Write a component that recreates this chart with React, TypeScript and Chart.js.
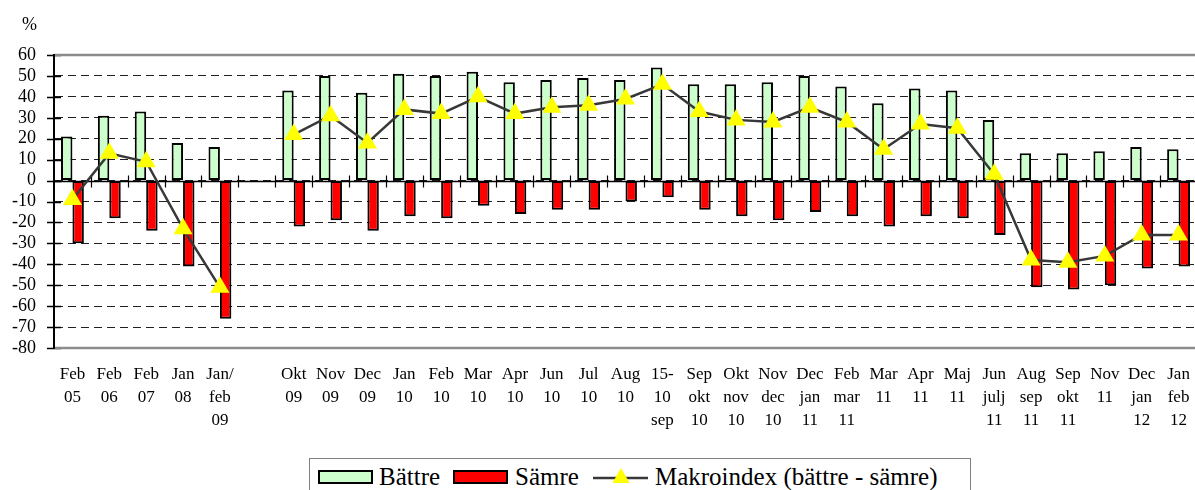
import React, { useEffect, useRef } from "react";
import { Chart, registerables } from "chart.js";

Chart.register(...registerables);

// ---- data ----
const categories: string[][] = [
  ["Feb", "05"],
  ["Feb", "06"],
  ["Feb", "07"],
  ["Jan", "08"],
  ["Jan/", "feb", "09"],
  [""],
  ["Okt", "09"],
  ["Nov", "09"],
  ["Dec", "09"],
  ["Jan", "10"],
  ["Feb", "10"],
  ["Mar", "10"],
  ["Apr", "10"],
  ["Jun", "10"],
  ["Jul", "10"],
  ["Aug", "10"],
  ["15-", "10", "sep"],
  ["Sep", "okt", "10"],
  ["Okt", "nov", "10"],
  ["Nov", "dec", "10"],
  ["Dec", "jan", "11"],
  ["Feb", "mar", "11"],
  ["Mar", "11"],
  ["Apr", "11"],
  ["Maj", "11"],
  ["Jun", "julj", "11"],
  ["Aug", "sep", "11"],
  ["Sep", "okt", "11"],
  ["Nov", "11"],
  ["Dec", "jan", "12"],
  ["Jan", "feb", "12"],
];

const battre: (number | null)[] = [
  21, 31, 33, 18, 16, null, 43, 50, 42, 51, 50, 52, 47, 48, 49, 48, 54, 46, 46,
  47, 50, 45, 37, 44, 43, 29, 13, 13, 14, 16, 15,
];

const samre: (number | null)[] = [
  -30, -18, -24, -41, -66, null, -22, -19, -24, -17, -18, -12, -16, -14, -14,
  -10, -8, -14, -17, -19, -15, -17, -22, -17, -18, -26, -51, -52, -50, -42, -41,
];

const makroindex: (number | null)[] = [
  -9, 13, 9, -23, -51, null, 22, 31, 18, 34, 32, 40, 32, 35, 36, 39, 46, 33,
  29, 28, 35, 28, 15, 27, 25, 3, -38, -39, -36, -26, -26,
];

const yMin = -80;
const yMax = 60;
const yStep = 10;
const unitLabel = "%";

const seriesNames = ["Bättre", "Sämre", "Makroindex (bättre - sämre)"];

const FONT = '"Liberation Serif", serif';

export default function App() {
  const canvasRef = useRef<HTMLCanvasElement | null>(null);

  useEffect(() => {
    document.body.style.margin = "0";
    const canvas = canvasRef.current;
    if (!canvas) return;

    const decor = {
      id: "decor",
      beforeDatasetsDraw(chart: any) {
        const { ctx, chartArea: a, scales } = chart;
        const xs = scales.x;
        const ys = scales.y;
        ctx.save();
        // y cross ticks
        ctx.strokeStyle = "#000";
        ctx.lineWidth = 1.5;
        ctx.beginPath();
        ys.ticks.forEach((t: any) => {
          const py = Math.round(ys.getPixelForValue(t.value)) + 0.5;
          ctx.moveTo(a.left - 7, py);
          ctx.lineTo(a.left + 7, py);
        });
        ctx.stroke();
        // zero line
        const y0 = Math.round(ys.getPixelForValue(0)) + 0.5;
        ctx.lineWidth = 1.5;
        ctx.beginPath();
        ctx.moveTo(a.left, y0);
        ctx.lineTo(a.right, y0);
        ctx.stroke();
        // category boundary ticks on the zero line
        ctx.lineWidth = 1.2;
        ctx.beginPath();
        for (let i = 0; i < categories.length - 1; i++) {
          const bx =
            Math.round((xs.getPixelForValue(i) + xs.getPixelForValue(i + 1)) / 2) + 0.5;
          ctx.moveTo(bx, y0 - 6);
          ctx.lineTo(bx, y0 + 6);
        }
        ctx.stroke();
        // gray plot-area frame lines (top and bottom)
        ctx.strokeStyle = "#8c8c8c";
        ctx.lineWidth = 2.5;
        ctx.beginPath();
        ctx.moveTo(a.left + 1, a.top);
        ctx.lineTo(a.right, a.top);
        ctx.moveTo(a.left + 1, a.bottom);
        ctx.lineTo(a.right, a.bottom);
        ctx.stroke();
        ctx.restore();
      },
      afterDraw(chart: any) {
        const { ctx, chartArea: a } = chart;
        ctx.save();
        ctx.fillStyle = "#000";
        ctx.font = `18px ${FONT}`;
        ctx.textAlign = "left";
        ctx.textBaseline = "middle";
        ctx.fillText(unitLabel, a.left - 32, a.top - 30);
        ctx.restore();
      },
    };

    const chart = new Chart(canvas, {
      type: "bar",
      data: {
        labels: categories,
        datasets: [
          {
            type: "line",
            label: seriesNames[2],
            data: makroindex,
            borderColor: "#383838",
            borderWidth: 2.5,
            pointStyle: "triangle",
            pointRadius: 11,
            pointHoverRadius: 11,
            pointBackgroundColor: "#ffff00",
            pointBorderColor: "#ffff00",
            pointBorderWidth: 0,
            spanGaps: false,
            tension: 0,
            order: 0,
          } as any,
          {
            type: "bar",
            label: seriesNames[0],
            data: battre,
            backgroundColor: "#ccffcc",
            borderColor: "#000",
            borderWidth: 2,
            borderSkipped: false,
            categoryPercentage: 0.62,
            barPercentage: 1.0,
            order: 1,
          },
          {
            type: "bar",
            label: seriesNames[1],
            data: samre,
            backgroundColor: "#ff0000",
            borderColor: "#000",
            borderWidth: 2,
            borderSkipped: false,
            categoryPercentage: 0.62,
            barPercentage: 1.0,
            order: 1,
          },
        ],
      },
      options: {
        animation: false,
        responsive: true,
        maintainAspectRatio: false,
        layout: { padding: { top: 55, left: 0, right: 0, bottom: 0 } },
        plugins: {
          legend: { display: false },
          tooltip: { enabled: false },
        },
        scales: {
          x: {
            offset: true,
            grid: { display: false, drawTicks: false },
            border: { display: false },
            ticks: {
              autoSkip: false,
              maxRotation: 0,
              minRotation: 0,
              padding: 15,
              color: "#000",
              font: { family: FONT, size: 17, lineHeight: 23 / 17 },
            },
            afterFit: (s: any) => {
              s.height = 142;
            },
          },
          y: {
            min: yMin,
            max: yMax,
            ticks: {
              stepSize: yStep,
              autoSkip: false,
              padding: 18,
              color: "#000",
              font: { family: FONT, size: 18, lineHeight: 1 },
            },
            grid: {
              color: "#202020",
              lineWidth: 1,
              drawTicks: false,
            },
            border: { display: true, color: "#000", width: 2, dash: [8, 5] },
            afterFit: (s: any) => {
              s.width = 54;
            },
          },
        },
      },
      plugins: [decor],
    });

    return () => chart.destroy();
  }, []);

  const box = (bg: string): React.CSSProperties => ({
    width: 55,
    height: 14,
    boxSizing: "border-box",
    border: "2px solid #000",
    background: bg,
    marginTop: 7,
    flex: "0 0 auto",
  });

  return (
    <div
      style={{
        position: "fixed",
        left: 0,
        top: 0,
        width: 1195,
        height: 490,
        overflow: "hidden",
        background: "#fff",
      }}
    >
      <div style={{ position: "absolute", left: 0, top: 0, width: 1208, height: 490 }}>
        <canvas ref={canvasRef} />
      </div>
      <div
        style={{
          position: "absolute",
          left: 309,
          top: 458,
          width: 662,
          height: 45,
          boxSizing: "border-box",
          border: "1px solid #808080",
          background: "#fff",
          display: "flex",
          alignItems: "flex-start",
          paddingLeft: 8,
          paddingTop: 4,
          fontFamily: FONT,
          fontSize: 25,
          lineHeight: "28px",
          color: "#000",
          whiteSpace: "nowrap",
        }}
      >
        <div style={box("#ccffcc")} />
        <span style={{ marginLeft: 6 }}>{seriesNames[0]}</span>
        <div style={{ ...box("#ff0000"), marginLeft: 13 }} />
        <span style={{ marginLeft: 7 }}>{seriesNames[1]}</span>
        <svg width={55} height={28} style={{ marginLeft: 14, flex: "0 0 auto" }}>
          <line x1={0} y1={15} x2={55} y2={15} stroke="#383838" strokeWidth={2.5} />
          <polygon points="28,5 36.66,20 19.34,20" fill="#ffff00" />
        </svg>
        <span style={{ marginLeft: 7 }}>{seriesNames[2]}</span>
      </div>
    </div>
  );
}
